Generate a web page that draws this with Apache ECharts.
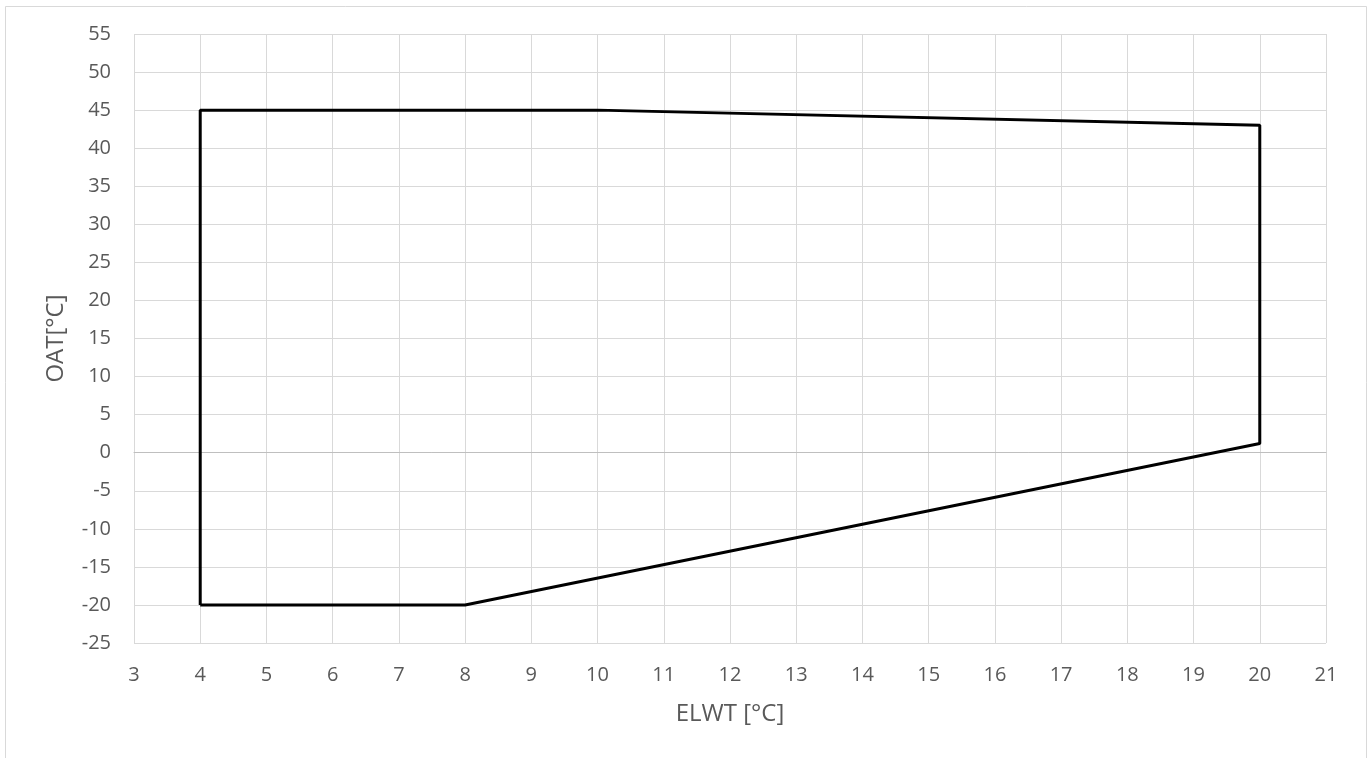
<!DOCTYPE html>
<html><head><meta charset="utf-8">
<script src="https://cdn.jsdelivr.net/npm/echarts@6/dist/echarts.min.js"></script>
<style>html,body{margin:0;padding:0;background:#fff}#c{width:1369px;height:758px}</style>
</head><body><div id="c"></div>
<script>
const xTitle = 'ELWT [°C]';
const yTitle = 'OAT[°C]';
const envelopeX = [4, 4, 10, 20, 20, 8, 4];
const envelopeY = [-20, 45, 45, 43, 1.2, -20, -20];
const xRange = [3, 21, 1];
const yRange = [-25, 55, 5];

const chart = echarts.init(document.getElementById('c'));
const font = 'Open Sans';
chart.setOption({
  animation: false,
  backgroundColor: '#fff',
  graphic: [{type:'rect', shape:{x:5.5,y:6.5,width:1361,height:800}, style:{fill:'none',stroke:'#d9d9d9',lineWidth:1}, silent:true}],
  grid: {left:134, right:43, top:34, bottom:115},
  xAxis: {
    type:'value', min:xRange[0], max:xRange[1], interval:xRange[2],
    name:xTitle, nameLocation:'middle', nameGap:59,
    nameTextStyle:{color:'#595959', fontSize:24, fontFamily:font},
    axisLine:{onZero:true, lineStyle:{color:'#bfbfbf', width:1}},
    axisTick:{show:false},
    axisLabel:{color:'#595959', fontSize:20, fontFamily:font, margin:22},
    splitLine:{show:true, lineStyle:{color:'#d9d9d9', width:1}}
  },
  yAxis: {
    type:'value', min:yRange[0], max:yRange[1], interval:yRange[2],
    name:yTitle, nameLocation:'middle', nameGap:66,
    nameTextStyle:{color:'#595959', fontSize:24, fontFamily:font},
    axisLine:{show:false},
    axisTick:{show:false},
    axisLabel:{color:'#595959', fontSize:20, fontFamily:font, margin:23},
    splitLine:{show:true, lineStyle:{color:'#d9d9d9', width:1}}
  },
  series: [{
    type:'line', data: envelopeX.map((x,i)=>[x, envelopeY[i]]),
    symbol:'none', lineStyle:{color:'#000', width:3}, silent:true
  }]
});
</script></body></html>
